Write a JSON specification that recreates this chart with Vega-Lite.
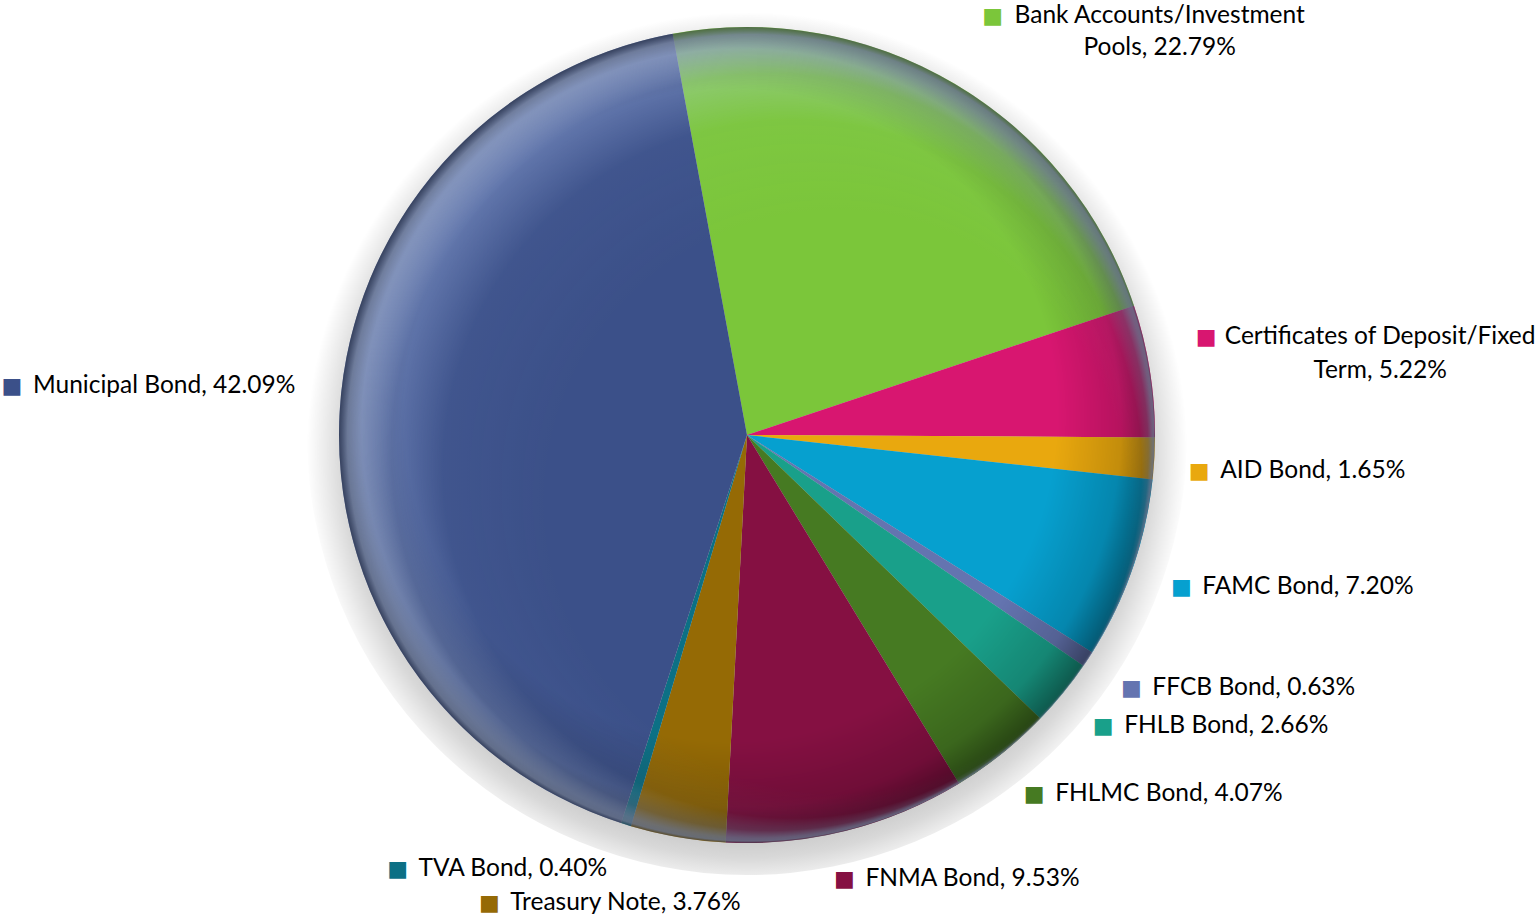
{
  "$schema": "https://vega.github.io/schema/vega-lite/v6.json",
  "width": 1494,
  "height": 870,
  "autosize": "none",
  "padding": {"left": 0, "top": 0, "right": 42, "bottom": 47},
  "background": "white",
  "config": {"view": {"stroke": null}},
  "datasets": {
    "holdings": [
      {"category": "Bank Accounts/Investment Pools", "value": 22.79, "order": 1, "label": "Bank Accounts/Investment\nPools, 22.79%"},
      {"category": "Certificates of Deposit/Fixed Term", "value": 5.22, "order": 2, "label": "Certificates of Deposit/Fixed\nTerm, 5.22%"},
      {"category": "AID Bond", "value": 1.65, "order": 3, "label": "AID Bond, 1.65%"},
      {"category": "FAMC Bond", "value": 7.20, "order": 4, "label": "FAMC Bond, 7.20%"},
      {"category": "FFCB Bond", "value": 0.63, "order": 5, "label": "FFCB Bond, 0.63%"},
      {"category": "FHLB Bond", "value": 2.66, "order": 6, "label": "FHLB Bond, 2.66%"},
      {"category": "FHLMC Bond", "value": 4.07, "order": 7, "label": "FHLMC Bond, 4.07%"},
      {"category": "FNMA Bond", "value": 9.53, "order": 8, "label": "FNMA Bond, 9.53%"},
      {"category": "Treasury Note", "value": 3.76, "order": 9, "label": "Treasury Note, 3.76%"},
      {"category": "TVA Bond", "value": 0.40, "order": 10, "label": "TVA Bond, 0.40%"},
      {"category": "Municipal Bond", "value": 42.09, "order": 11, "label": "Municipal Bond, 42.09%"}
    ],
    "single": [{"k": 1}]
  },
  "layer": [
    {
      "data": {"name": "single"},
      "mark": {
        "type": "arc", "theta": 0, "theta2": 6.2832, "outerRadius": 440,
        "fill": {
          "gradient": "radial", "x1": 0.5, "y1": 0.52, "r1": 0, "x2": 0.5, "y2": 0.52, "r2": 0.5,
          "stops": [
            {"offset": 0, "color": "#cccccc"},
            {"offset": 0.88, "color": "#cccccc"},
            {"offset": 0.92, "color": "#d8d8d8"},
            {"offset": 0.96, "color": "#ececec"},
            {"offset": 1, "color": "#ffffff"}
          ]
        }
      },
      "encoding": {}
    },
    {
      "data": {"name": "holdings"},
      "encoding": {
        "theta": {"field": "value", "type": "quantitative", "stack": true, "scale": {"range": [-0.1833, 6.0999]}},
        "order": {"field": "order", "type": "quantitative"}
      },
      "layer": [
        {
          "mark": {"type": "arc", "outerRadius": 408},
          "encoding": {
            "color": {
              "field": "category", "type": "nominal", "legend": null,
              "scale": {
                "domain": ["Bank Accounts/Investment Pools", "Certificates of Deposit/Fixed Term", "AID Bond", "FAMC Bond", "FFCB Bond", "FHLB Bond", "FHLMC Bond", "FNMA Bond", "Treasury Note", "TVA Bond", "Municipal Bond"],
                "range": ["#7BC63A", "#D81670", "#E9A80E", "#06A0CF", "#6474B0", "#19A08A", "#467A22", "#851042", "#956A05", "#0C7085", "#3B5089"]
              }
            }
          }
        },
        {
          "mark": {"type": "text", "radius": 460, "font": "DejaVu Sans", "fontSize": 22, "align": "center", "baseline": "middle"},
          "encoding": {
            "color": {"field": "category", "type": "nominal", "legend": null},
            "text": {"condition": {"test": "indexof(['FAMC Bond','FFCB Bond','FHLB Bond','FHLMC Bond'], datum.category) >= 0", "value": "■"}, "value": ""}
          }
        },
        {
          "mark": {"type": "text", "radius": 460, "font": "Lato", "fontSize": 24.5, "align": "left", "baseline": "middle", "dx": 21, "color": "#000000"},
          "encoding": {
            "text": {"condition": {"test": "indexof(['FAMC Bond','FFCB Bond','FHLB Bond','FHLMC Bond'], datum.category) >= 0", "field": "label"}, "value": ""}
          }
        },
        {
          "mark": {"type": "text", "radius": 460, "font": "DejaVu Sans", "fontSize": 22, "align": "center", "baseline": "middle", "dx": -7, "dy": 9},
          "encoding": {
            "color": {"field": "category", "type": "nominal", "legend": null},
            "text": {"condition": {"test": "datum.category === 'AID Bond'", "value": "■"}, "value": ""}
          }
        },
        {
          "mark": {"type": "text", "radius": 460, "font": "Lato", "fontSize": 24.5, "align": "left", "baseline": "middle", "dx": 14, "dy": 9, "color": "#000000"},
          "encoding": {
            "text": {"condition": {"test": "datum.category === 'AID Bond'", "field": "label"}, "value": ""}
          }
        },
        {
          "mark": {"type": "text", "radius": 460, "font": "DejaVu Sans", "fontSize": 22, "align": "center", "baseline": "middle", "dx": -15, "dy": -2},
          "encoding": {
            "color": {"field": "category", "type": "nominal", "legend": null},
            "text": {"condition": {"test": "datum.category === 'FNMA Bond'", "value": "■"}, "value": ""}
          }
        },
        {
          "mark": {"type": "text", "radius": 460, "font": "Lato", "fontSize": 24.5, "align": "left", "baseline": "middle", "dx": 6, "dy": -2, "color": "#000000"},
          "encoding": {
            "text": {"condition": {"test": "datum.category === 'FNMA Bond'", "field": "label"}, "value": ""}
          }
        },
        {
          "mark": {"type": "text", "radius": 470, "font": "DejaVu Sans", "fontSize": 22, "align": "center", "baseline": "middle", "dx": 7, "dy": -14},
          "encoding": {
            "color": {"field": "category", "type": "nominal", "legend": null},
            "text": {"condition": {"test": "datum.category === 'Bank Accounts/Investment Pools'", "value": "■"}, "value": ""}
          }
        },
        {
          "mark": {"type": "text", "radius": 470, "font": "Lato", "fontSize": 24.5, "align": "center", "baseline": "middle", "lineBreak": "\n", "lineHeight": 32, "dx": 174, "dy": -14, "color": "#000000"},
          "encoding": {
            "text": {"condition": {"test": "datum.category === 'Bank Accounts/Investment Pools'", "field": "label"}, "value": ""}
          }
        },
        {
          "mark": {"type": "text", "radius": 470, "font": "DejaVu Sans", "fontSize": 22, "align": "center", "baseline": "middle", "dx": -5, "dy": -24},
          "encoding": {
            "color": {"field": "category", "type": "nominal", "legend": null},
            "text": {"condition": {"test": "datum.category === 'Certificates of Deposit/Fixed Term'", "value": "■"}, "value": ""}
          }
        },
        {
          "mark": {"type": "text", "radius": 470, "font": "Lato", "fontSize": 24.5, "align": "center", "baseline": "middle", "lineBreak": "\n", "lineHeight": 34, "dx": 169, "dy": -24, "color": "#000000"},
          "encoding": {
            "text": {"condition": {"test": "datum.category === 'Certificates of Deposit/Fixed Term'", "field": "label"}, "value": ""}
          }
        },
        {
          "mark": {"type": "text", "radius": 470, "font": "DejaVu Sans", "fontSize": 22, "align": "center", "baseline": "middle", "dx": -266, "dy": -18},
          "encoding": {
            "color": {"field": "category", "type": "nominal", "legend": null},
            "text": {"condition": {"test": "datum.category === 'Municipal Bond'", "value": "■"}, "value": ""}
          }
        },
        {
          "mark": {"type": "text", "radius": 470, "font": "Lato", "fontSize": 24.5, "align": "left", "baseline": "middle", "dx": -245, "dy": -18, "color": "#000000"},
          "encoding": {
            "text": {"condition": {"test": "datum.category === 'Municipal Bond'", "field": "label"}, "value": ""}
          }
        },
        {
          "mark": {"type": "text", "radius": 470, "font": "DejaVu Sans", "fontSize": 22, "align": "center", "baseline": "middle", "dx": -178, "dy": 5},
          "encoding": {
            "color": {"field": "category", "type": "nominal", "legend": null},
            "text": {"condition": {"test": "datum.category === 'Treasury Note'", "value": "■"}, "value": ""}
          }
        },
        {
          "mark": {"type": "text", "radius": 470, "font": "Lato", "fontSize": 24.5, "align": "left", "baseline": "middle", "dx": -157, "dy": 5, "color": "#000000"},
          "encoding": {
            "text": {"condition": {"test": "datum.category === 'Treasury Note'", "field": "label"}, "value": ""}
          }
        },
        {
          "mark": {"type": "text", "radius": 470, "font": "DejaVu Sans", "fontSize": 22, "align": "center", "baseline": "middle", "dx": -210, "dy": -15},
          "encoding": {
            "color": {"field": "category", "type": "nominal", "legend": null},
            "text": {"condition": {"test": "datum.category === 'TVA Bond'", "value": "■"}, "value": ""}
          }
        },
        {
          "mark": {"type": "text", "radius": 470, "font": "Lato", "fontSize": 24.5, "align": "left", "baseline": "middle", "dx": -189, "dy": -15, "color": "#000000"},
          "encoding": {
            "text": {"condition": {"test": "datum.category === 'TVA Bond'", "field": "label"}, "value": ""}
          }
        }
      ]
    },
    {
      "data": {"name": "single"},
      "mark": {
        "type": "arc", "theta": 0, "theta2": 6.2832, "outerRadius": 408,
        "fill": {
          "gradient": "radial", "x1": 0.612, "y1": 0.584, "r1": 0.355, "x2": 0.5, "y2": 0.5, "r2": 0.5,
          "stops": [
            {"offset": 0, "color": "rgba(190,210,255,0)"},
            {"offset": 0.5, "color": "rgba(190,210,255,0.04)"},
            {"offset": 0.75, "color": "rgba(190,210,255,0.28)"},
            {"offset": 0.9, "color": "rgba(190,210,255,0.7)"},
            {"offset": 0.96, "color": "rgba(190,210,255,0.8)"},
            {"offset": 1, "color": "rgba(190,210,255,0.3)"}
          ]
        }
      },
      "encoding": {}
    },
    {
      "data": {"name": "single"},
      "mark": {
        "type": "arc", "theta": 0, "theta2": 6.2832, "outerRadius": 408,
        "fill": {
          "gradient": "radial", "x1": 0.4, "y1": 0.38, "r1": 0, "x2": 0.5, "y2": 0.5, "r2": 0.5,
          "stops": [
            {"offset": 0, "color": "rgba(0,0,0,0)"},
            {"offset": 0.8, "color": "rgba(0,0,0,0)"},
            {"offset": 0.93, "color": "rgba(0,0,0,0.16)"},
            {"offset": 1, "color": "rgba(0,0,0,0.45)"}
          ]
        }
      },
      "encoding": {}
    }
  ]
}
